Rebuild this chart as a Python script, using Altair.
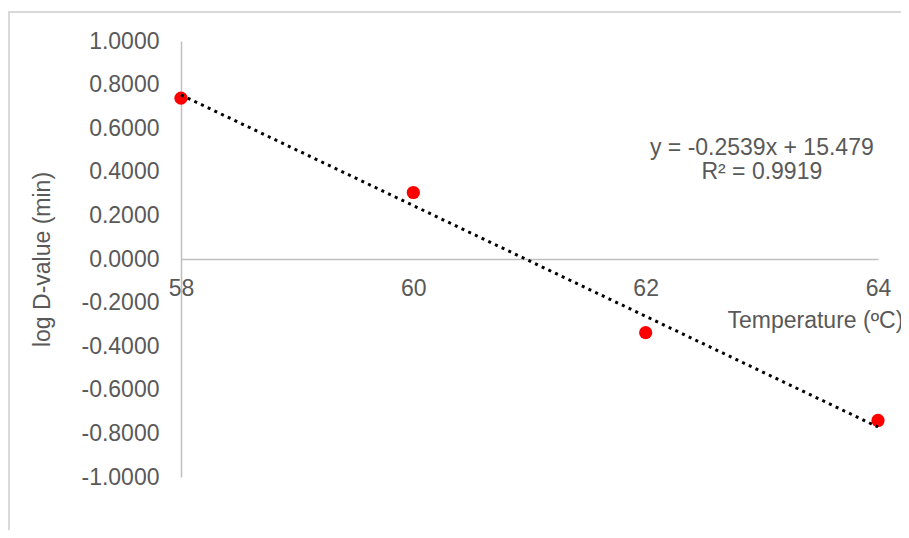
import altair as alt
import pandas as pd

# Data
temperature = [58, 60, 62, 64]
log_d_value = [0.7378, 0.3050, -0.3378, -0.7406]
x_ticks = [58, 60, 62, 64]
y_ticks = [-1.0, -0.8, -0.6, -0.4, -0.2, 0.0, 0.2, 0.4, 0.6, 0.8, 1.0]
equation_lines = ["y = -0.2539x + 15.479", "R\u00b2 = 0.9919"]
equation_x = [63.0, 63.0]
equation_y = [0.51, 0.40]

df = pd.DataFrame({"temp": temperature, "logd": log_d_value})
eq_df = pd.DataFrame({"text": equation_lines, "x": equation_x, "y": equation_y})

FONT = "Liberation Sans"
GRAY = "#595959"
AXIS = "#bfbfbf"
FS = 23

x_scale = alt.Scale(domain=[58, 64], nice=False, zero=False)
y_scale = alt.Scale(domain=[-1, 1], nice=False, zero=False)

x_axis = alt.Axis(
    orient="bottom", offset=-218, values=x_ticks, format="d",
    ticks=False, grid=False, domainColor=AXIS, domainWidth=1.5,
    labelFont=FONT, labelFontSize=FS, labelColor=GRAY, labelPadding=18,
    labelFlush=False,
    title="Temperature (\u00baC)", titleFont=FONT, titleFontSize=FS,
    titleFontWeight="normal", titleColor=GRAY, titleX=546, titleY=61,
    titleAlign="left", titleBaseline="middle",
)
y_axis = alt.Axis(
    values=y_ticks,
    labelExpr="replace(format(datum.value, '.4f'), '\u2212', '-')",
    ticks=False, grid=False, domainColor=AXIS, domainWidth=1.5,
    labelFont=FONT, labelFontSize=FS, labelColor=GRAY, labelPadding=22,
    title="log D-value (min)", titleFont=FONT, titleFontSize=FS,
    titleFontWeight="normal", titleColor=GRAY, titleAngle=270,
    titleX=-139, titleY=218, titleAlign="center", titleBaseline="middle",
)

base = alt.Chart(df)

frame = base.mark_rect(fill=None, stroke="#d9d9d9", strokeWidth=2).encode(
    x=alt.value(-172), x2=alt.value(2000), y=alt.value(-29), y2=alt.value(2000)
).transform_filter("datum.temp == 58")

points = base.mark_circle(size=175, color="#ff0000", opacity=1).encode(
    x=alt.X("temp:Q", scale=x_scale, axis=x_axis),
    y=alt.Y("logd:Q", scale=y_scale, axis=y_axis),
)

trend = base.transform_regression("temp", "logd", extent=[58, 64]).mark_line(
    color="black", strokeWidth=3, strokeDash=[3, 4.4], strokeCap="butt"
).encode(
    x=alt.X("temp:Q", scale=x_scale),
    y=alt.Y("logd:Q", scale=y_scale),
)

eq = alt.Chart(eq_df).mark_text(
    font=FONT, fontSize=FS, color=GRAY, align="center", baseline="middle"
).encode(
    x=alt.X("x:Q", scale=x_scale),
    y=alt.Y("y:Q", scale=y_scale),
    text="text:N",
)

chart = alt.layer(frame, points, trend, eq).properties(
    width=697, height=436,
    autosize=alt.AutoSizeParams(type="none"),
    padding={"left": 173, "top": 33, "right": 23, "bottom": 53},
    background="white",
).configure_view(stroke=None)

chart.save("out.html", embed_options={"renderer": "svg", "actions": False})
